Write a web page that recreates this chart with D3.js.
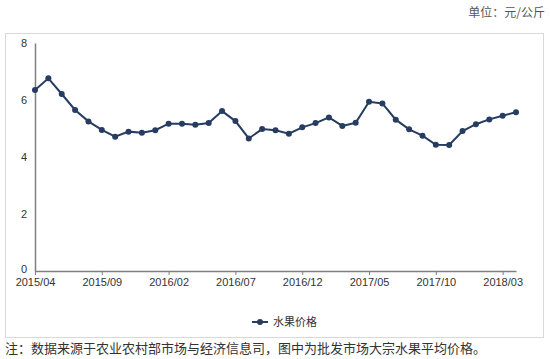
<!DOCTYPE html>
<html>
<head>
<meta charset="utf-8">
<script src="https://cdn.jsdelivr.net/npm/d3@7"></script>
<style>
  body { margin: 0; background: #fff; }
  svg { display: block; font-family: "Liberation Sans", Arial, sans-serif; }
</style>
</head>
<body>
<div id="chart"></div>
<script>
// monthly fruit wholesale price, 2015/04 - 2018/04
const months = [];
for (let y = 2015, m = 4; months.length < 37; ) {
  months.push(y + "/" + String(m).padStart(2, "0"));
  m++; if (m > 12) { m = 1; y++; }
}
const prices = [6.35, 6.76, 6.21, 5.65, 5.25, 4.95, 4.71, 4.89, 4.85, 4.94,
  5.17, 5.17, 5.13, 5.19, 5.61, 5.26, 4.65, 4.98, 4.94, 4.82,
  5.04, 5.19, 5.39, 5.09, 5.20, 5.94, 5.88, 5.31, 4.97, 4.75,
  4.43, 4.42, 4.91, 5.15, 5.32, 5.45, 5.57];
const yTicks = [0, 2, 4, 6, 8];
const seriesName = "水果价格";
const unitText = "单位：元/公斤";
const noteText = "注：数据来源于农业农村部市场与经济信息司，图中为批发市场大宗水果平均价格。";

const width = 550, height = 359;
const lineColor = "#263c60";

const svg = d3.select("#chart").append("svg")
  .attr("width", width)
  .attr("height", height);

// outer frame
svg.append("rect")
  .attr("x", 5.5).attr("y", 33.5)
  .attr("width", 538).attr("height", 304)
  .attr("fill", "#fff")
  .attr("stroke", "#d9d9d9");

svg.append("text")
  .attr("x", 545).attr("y", 17)
  .attr("text-anchor", "end")
  .style("font-family", "'Noto Sans CJK SC', sans-serif")
  .style("font-size", "12px")
  .attr("fill", "#555")
  .text(unitText);

const xScale = d3.scalePoint()
  .domain(months)
  .range([35, 516]);

const yScale = d3.scaleLinear()
  .domain([0, 8])
  .range([271, 43]);

// y axis
const yAxis = svg.append("g")
  .attr("transform", "translate(35,0)")
  .call(d3.axisLeft(yScale).tickValues(yTicks).tickSize(0).tickPadding(8));
yAxis.select(".domain").attr("stroke", "#7f7f7f").attr("stroke-width", 1.5);
yAxis.selectAll("text").style("font-size", "11px").attr("fill", "#333")
  .attr("dy", d => d === 0 ? "0.1em" : "0.32em");

// x axis
const xAxis = svg.append("g")
  .attr("transform", "translate(0,271)")
  .call(d3.axisBottom(xScale)
    .tickValues(months.filter((d, i) => i % 5 === 0))
    .tickSize(4).tickSizeOuter(0).tickPadding(3));
xAxis.select(".domain").attr("stroke", "#7f7f7f").attr("stroke-width", 1.5);
xAxis.selectAll(".tick line").attr("stroke", "#7f7f7f");
xAxis.selectAll("text").style("font-size", "11px").attr("fill", "#333");

// line
const line = d3.line()
  .x((d, i) => xScale(months[i]))
  .y(d => yScale(d));

svg.append("path")
  .datum(prices)
  .attr("fill", "none")
  .attr("stroke", lineColor)
  .attr("stroke-width", 2)
  .attr("d", line);

svg.append("g").selectAll("circle")
  .data(prices)
  .enter()
  .append("circle")
  .attr("cx", (d, i) => xScale(months[i]))
  .attr("cy", d => yScale(d))
  .attr("r", 3)
  .attr("fill", lineColor);

// legend
const lg = svg.append("g").attr("transform", "translate(252,322)");
lg.append("line")
  .attr("x1", 0).attr("x2", 16)
  .attr("stroke", lineColor).attr("stroke-width", 2);
lg.append("circle").attr("cx", 8).attr("r", 3).attr("fill", lineColor);
lg.append("text")
  .attr("x", 21).attr("y", 4)
  .style("font-family", "'Noto Sans CJK SC', sans-serif")
  .style("font-size", "11px")
  .attr("fill", "#333")
  .text(seriesName);

// source note
svg.append("text")
  .attr("x", 5).attr("y", 353)
  .style("font-family", "'Noto Sans CJK SC', sans-serif")
  .style("font-size", "13px")
  .attr("fill", "#333")
  .text(noteText);
</script>
</body>
</html>
